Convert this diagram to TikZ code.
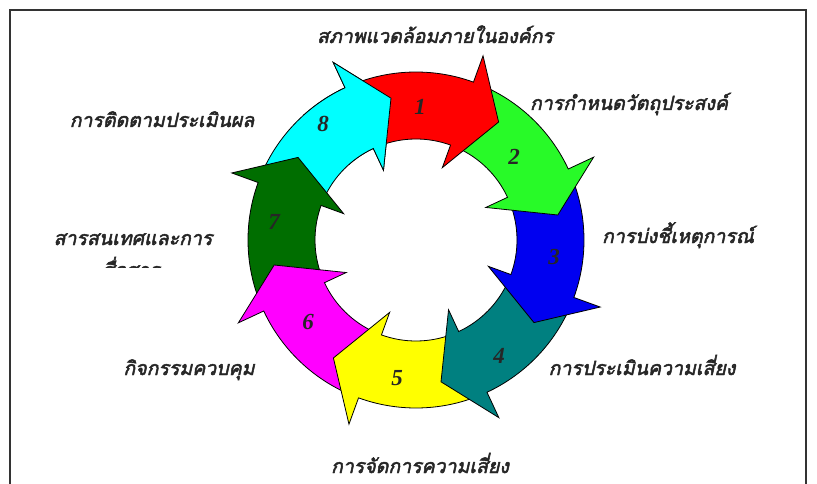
\documentclass[tikz,border=0pt]{standalone}
\usepackage{fontspec}
\setmainfont{Liberation Serif}
\newfontfamily\thaifont[Script=Thai,FakeSlant=0.22,FakeBold=2.5]{Loma}
\definecolor{cRed}{RGB}{255,0,0}
\definecolor{cLime}{RGB}{40,250,40}
\definecolor{cBlue}{RGB}{0,0,240}
\definecolor{cTeal}{RGB}{0,128,128}
\definecolor{cYellow}{RGB}{255,255,0}
\definecolor{cMagenta}{RGB}{255,0,255}
\definecolor{cDkGreen}{RGB}{0,110,0}
\definecolor{cCyan}{RGB}{0,255,255}
\tikzset{
  lbl/.style={font=\thaifont\fontsize{19.5}{22}\selectfont, inner sep=0pt, text=black!85, anchor=base},
  num/.style={font=\bfseries\itshape\fontsize{23}{26}\selectfont, inner sep=0pt, text=black!85},
  ringline/.style={draw=black, line width=0.8pt, line join=miter},
  frameline/.style={draw=black!80, line width=1.3pt},
}
\newcommand\RingArrow[2]{%
  \filldraw[ringline, fill=#1] ({#2+41}:168pt) arc[start angle={#2+41}, end angle={#2}, radius=168pt]
    -- ({#2}:196pt) -- ({#2-15}:144pt) -- ({#2}:77pt) -- ({#2}:101pt)
    arc[start angle={#2}, end angle={#2+41}, radius=101pt] -- cycle;}
\begin{document}
\begin{tikzpicture}[x=1pt,y=-1pt]
\useasboundingbox[fill=white] (0,0) rectangle (817,484);
\draw[frameline] (10,490) -- (10,10) -- (806,10) -- (806,490);
\begin{scope}[shift={(416,240)}]
  \RingArrow{cCyan}{115}
  \RingArrow{cDkGreen}{160}
  \RingArrow{cMagenta}{205}
  \RingArrow{cYellow}{250}
  \RingArrow{cTeal}{295}
  \RingArrow{cBlue}{340}
  \RingArrow{cLime}{25}
  \RingArrow{cRed}{70}
  \begin{scope}
    \clip (0pt,0pt) -- (92:230pt) -- (112:230pt) -- (132:230pt) -- cycle;
    \RingArrow{cCyan}{115}
  \end{scope}
\end{scope}
\node[num] (n1) at (420,107) {1};
\node[num] (n2) at (514,157) {2};
\node[num] (n3) at (554,257) {3};
\node[num] (n4) at (499,356) {4};
\node[num] (n5) at (397,378) {5};
\node[num] (n6) at (308,322) {6};
\node[num] (n7) at (274,222) {7};
\node[num] (n8) at (323,124) {8};
\node[lbl] (ltop) at (435,43) {สภาพแวดล้อมภายในองค์กร};
\node[lbl] (l2) at (629,110) {การกำหนดวัตถุประสงค์};
\node[lbl] (l3) at (678,243) {การบ่งชี้เหตุการณ์};
\node[lbl] (l4) at (642,375) {การประเมินความเสี่ยง};
\node[lbl] (l5) at (420,473) {การจัดการความเสี่ยง};
\node[lbl] (l6) at (189,375) {กิจกรรมควบคุม};
\node[lbl] (l7) at (133,245) {สารสนเทศและการ};
\begin{scope}
  \clip (20,252) rectangle (240,267);
  \node[lbl] (l7b) at (131,277) {สื่อสาร};
\end{scope}
\node[lbl] (l8) at (162,127) {การติดตามประเมินผล};
\end{tikzpicture}
\end{document}
